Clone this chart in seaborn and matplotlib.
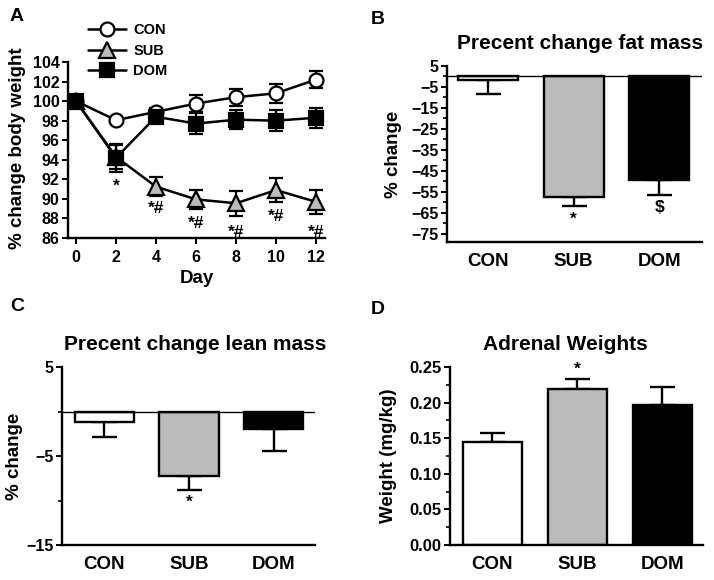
import numpy as np
import pandas as pd
import matplotlib
matplotlib.use("Agg")
import matplotlib.pyplot as plt
import seaborn as sns
from matplotlib.ticker import MultipleLocator, FormatStrFormatter

# ---------------- data ----------------
days = [0, 2, 4, 6, 8, 10, 12]
con_bw = [100.0, 98.05, 98.9, 99.75, 100.4, 100.8, 102.2]
con_bw_err = [0.3, 0.3, 0.35, 0.85, 0.85, 0.95, 0.9]
sub_bw = [100.0, 94.3, 91.25, 89.95, 89.55, 90.9, 89.7]
sub_bw_err = [0.3, 1.2, 0.95, 1.0, 1.3, 1.2, 1.2]
dom_bw = [100.0, 94.2, 98.4, 97.7, 98.1, 98.0, 98.3]
dom_bw_err = [0.3, 1.4, 0.6, 1.05, 1.0, 1.1, 1.0]
bw_marks = ["", "*", "*#", "*#", "*#", "*#", "*#"]
bw_mark_y = [0, 91.3, 89.0, 87.5, 86.6, 88.2, 86.6]

groups = ["CON", "SUB", "DOM"]
fat_change = [-1.6, -57.5, -49.2]
fat_err = [6.6, 4.4, 7.5]
fat_marks = ["", "*", "$"]
fat_mark_y = [0, -68.0, -62.6]

lean_change = [-1.2, -7.2, -2.0]
lean_err = [1.7, 1.6, 2.4]
lean_marks = ["", "*", ""]
lean_mark_y = [0, -10.25, 0]

adrenal = [0.144, 0.2195, 0.196]
adrenal_err = [0.0135, 0.014, 0.026]
adrenal_marks = ["", "*", ""]
adrenal_mark_y = [0, 0.2465, 0]

colors = {"CON": "white", "SUB": "#bbbbbb", "DOM": "black"}
markers = {"CON": "o", "SUB": "^", "DOM": "s"}

# ---------------- style ----------------
sns.set_style("ticks")
plt.rcParams["font.family"] = ["Liberation Sans", "DejaVu Sans"]
plt.rcParams["font.weight"] = "bold"
plt.rcParams["axes.labelweight"] = "bold"
plt.rcParams["axes.titleweight"] = "bold"
plt.rcParams["axes.linewidth"] = 1.6
for key in ["text.color", "axes.labelcolor", "xtick.color", "ytick.color",
            "axes.edgecolor", "xtick.labelcolor", "ytick.labelcolor"]:
    plt.rcParams[key] = "black"

W, H = 714, 580
fig = plt.figure(figsize=(W / 100, H / 100), dpi=100)


def px_axes(l, r, t, b):
    return fig.add_axes([l / W, 1 - b / H, (r - l) / W, (b - t) / H])


def style_axes(ax, ytick_size=11.5):
    sns.despine(ax=ax)
    for s in ["left", "bottom"]:
        ax.spines[s].set_linewidth(1.7)
        ax.spines[s].set_color("black")
    ax.tick_params(axis="y", which="major", direction="out", length=4, width=1.4,
                   labelsize=ytick_size, pad=2)
    ax.tick_params(axis="y", which="minor", direction="out", length=3, width=1.2)


# ---------------- Panel A ----------------
axA = px_axes(68, 325, 62, 238)
series = [("CON", con_bw, con_bw_err), ("SUB", sub_bw, sub_bw_err), ("DOM", dom_bw, dom_bw_err)]
for name, vals, errs in series:
    axA.errorbar(days, vals, yerr=errs, fmt="none", ecolor="black", elinewidth=1.6,
                 capsize=5, capthick=1.6, zorder=2)
for name, vals, errs in series:
    df = pd.DataFrame({"Day": days, "val": vals})
    sns.lineplot(data=df, x="Day", y="val", ax=axA, color="black", linewidth=1.8,
                 marker=markers[name], markersize=10 if name != "SUB" else 11,
                 markerfacecolor=colors[name], markeredgecolor="black",
                 markeredgewidth=1.6, label=name, zorder=3)
for d, m, y in zip(days, bw_marks, bw_mark_y):
    if m:
        axA.text(d, y, m, ha="center", va="center", fontsize=12.5, fontweight="bold")
axA.set_xlim(-0.4, 12.45)
axA.set_ylim(86, 104)
axA.set_xticks(days)
axA.yaxis.set_major_locator(MultipleLocator(2))
style_axes(axA, 11.5)
axA.tick_params(axis="x", direction="out", length=4, width=1.4, labelsize=11.5, pad=5)
axA.set_xlabel("Day", fontsize=13.5, fontweight="bold", labelpad=3)
axA.set_ylabel("% change body weight", fontsize=13.5, fontweight="bold")
axA.yaxis.set_label_coords(-0.165, 0.51)
h, l = axA.get_legend_handles_labels()
axA.legend(h, l, loc="upper left", bbox_to_anchor=(81 / W, 1 - 16 / H),
           bbox_transform=fig.transFigure, frameon=False,
           handlelength=2.6, handletextpad=0.5, labelspacing=0.45, borderpad=0,
           prop={"weight": "bold", "size": 10.5})


# ---------------- bar helper ----------------
def bar_panel(ax, vals, errs, marks, mark_y):
    df = pd.DataFrame({"group": groups, "val": vals})
    sns.barplot(data=df, x="group", y="val", hue="group", palette=colors,
                width=0.7, edgecolor="black", linewidth=1.7, legend=False, ax=ax,
                errorbar=None, zorder=2)
    lower = [e if v < 0 else 0 for v, e in zip(vals, errs)]
    upper = [e if v >= 0 else 0 for v, e in zip(vals, errs)]
    ax.errorbar(range(len(groups)), vals, yerr=[lower, upper], fmt="none",
                ecolor="black", elinewidth=1.7, capsize=9, capthick=1.7, zorder=1)
    for i, (m, y) in enumerate(zip(marks, mark_y)):
        if m:
            ax.text(i, y, m, ha="center", va="center", fontsize=12.5, fontweight="bold")
    ax.set_xlabel("")
    ax.tick_params(axis="x", length=0, labelsize=13.5, pad=8)


# ---------------- Panel B ----------------
axB = px_axes(447, 702, 66, 242)
bar_panel(axB, fat_change, fat_err, fat_marks, fat_mark_y)
axB.axhline(0, color="black", linewidth=1.0, zorder=3)
axB.set_xlim(-0.48, 2.5)
axB.set_ylim(-79, 5)
axB.set_yticks(np.arange(5, -76, -10))
axB.yaxis.set_minor_locator(MultipleLocator(10))
style_axes(axB, 11.5)
axB.set_ylabel("% change", fontsize=13.5, fontweight="bold")
axB.yaxis.set_label_coords(-0.176, 0.5)
axB.set_title("Precent change fat mass", fontsize=15, fontweight="bold", pad=12, x=0.52)

# ---------------- Panel C ----------------
axC = px_axes(62, 315, 367, 545)
bar_panel(axC, lean_change, lean_err, lean_marks, lean_mark_y)
axC.axhline(0, color="black", linewidth=1.0, zorder=3)
axC.set_xlim(-0.5, 2.49)
axC.set_ylim(-15, 5)
axC.set_yticks([5, -5, -15])
axC.yaxis.set_minor_locator(MultipleLocator(10))
style_axes(axC, 11.5)
axC.set_ylabel("% change", fontsize=13.5, fontweight="bold")
axC.yaxis.set_label_coords(-0.154, 0.5)
axC.set_title("Precent change lean mass", fontsize=15, fontweight="bold", pad=12, x=0.526)

# ---------------- Panel D ----------------
axD = px_axes(450, 703, 367, 545)
bar_panel(axD, adrenal, adrenal_err, adrenal_marks, adrenal_mark_y)
axD.set_xlim(-0.5, 2.48)
axD.set_ylim(0, 0.25)
axD.yaxis.set_major_locator(MultipleLocator(0.05))
axD.yaxis.set_minor_locator(MultipleLocator(0.025))
axD.yaxis.set_major_formatter(FormatStrFormatter("%.2f"))
style_axes(axD, 12)
axD.set_ylabel("Weight (mg/kg)", fontsize=13.5, fontweight="bold")
axD.yaxis.set_label_coords(-0.21, 0.5)
axD.set_title("Adrenal Weights", fontsize=15, fontweight="bold", pad=12, x=0.458)

# ---------------- panel letters ----------------
for letter, x, y in [("A", 10, 8), ("B", 371, 11), ("C", 10, 298), ("D", 371, 301)]:
    fig.text(x / W, 1 - y / H, letter, ha="left", va="top", fontsize=14, fontweight="bold")

fig.savefig("out.png", dpi=100)
